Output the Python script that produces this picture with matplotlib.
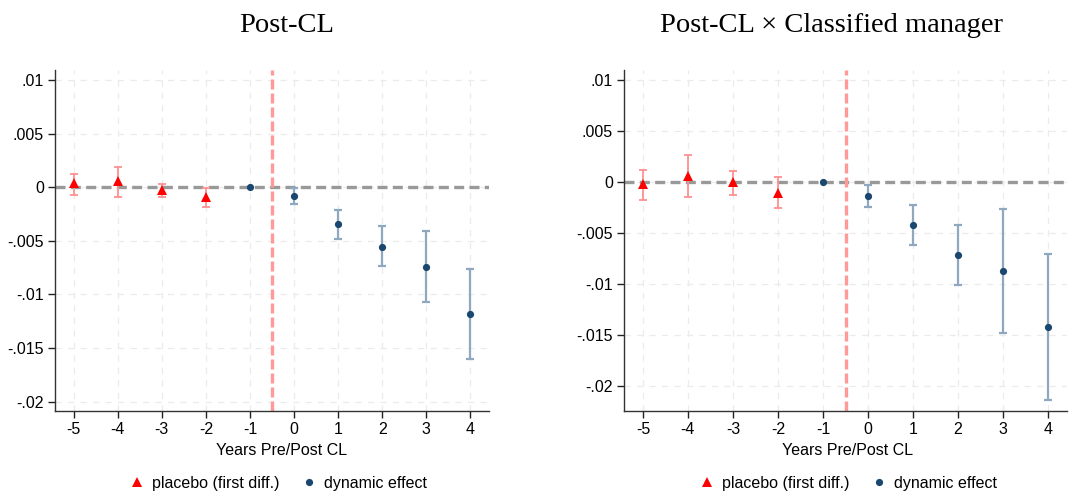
import matplotlib
matplotlib.use("Agg")
import matplotlib.pyplot as plt
import numpy as np

# placebo (first diff.) estimates, years -5..-2
placebo_x = [-5, -4, -3, -2]
# dynamic effect estimates, years -1..4
dyn_x = [-1, 0, 1, 2, 3, 4]

# panel 1: Post-CL
p1_coef = [0.00037, 0.00062, -0.00022, -0.00093]
p1_hi = [0.00124, 0.00190, 0.00031, -0.00012]
p1_lo = [-0.00071, -0.00087, -0.00090, -0.00186]
d1_coef = [0.0, -0.00081, -0.00342, -0.00553, -0.00742, -0.01186]
d1_hi = [np.nan, -0.00010, -0.00211, -0.00363, -0.00404, -0.00767]
d1_lo = [np.nan, -0.00155, -0.00481, -0.00736, -0.01075, -0.01606]

# panel 2: Post-CL x Classified manager
p2_coef = [-0.00023, 0.00059, -0.00003, -0.00104]
p2_hi = [0.00114, 0.00260, 0.00111, 0.00049]
p2_lo = [-0.00173, -0.00150, -0.00124, -0.00257]
d2_coef = [0.0, -0.00140, -0.00427, -0.00720, -0.00876, -0.01423]
d2_hi = [np.nan, -0.00026, -0.00225, -0.00423, -0.00270, -0.00704]
d2_lo = [np.nan, -0.00251, -0.00622, -0.01016, -0.01485, -0.02140]

titles = ["Post-CL", "Post-CL \u00d7 Classified manager"]
xticks = list(range(-5, 5))
yticks1 = [0.01, 0.005, 0, -0.005, -0.01, -0.015, -0.02]
yticks2 = [0.01, 0.005, 0, -0.005, -0.01, -0.015, -0.02]
ylabels = [".01", ".005", "0", "-.005", "-.01", "-.015", "-.02"]

RED = "#FF0000"
RED_CI = "#FF9090"
NAVY = "#1A476F"
NAVY_CI = "#8FA7BF"

plt.rcParams['font.family'] = ['Liberation Sans', 'DejaVu Sans']

fig = plt.figure(figsize=(10.69, 4.98), dpi=100)
W, H = 1069, 498

panels = [
    dict(box=(55, 70, 489, 410.7), ylim=(-0.02084, 0.01093), yt=yticks1,
         p=(p1_coef, p1_lo, p1_hi), d=(d1_coef, d1_lo, d1_hi),
         title_x=287, xlab_x=281.7, leg_x=278),
    dict(box=(624, 70, 1067, 410.7), ylim=(-0.02245, 0.01098), yt=yticks2,
         p=(p2_coef, p2_lo, p2_hi), d=(d2_coef, d2_lo, d2_hi),
         title_x=831, xlab_x=848, leg_x=848),
]

for i, pn in enumerate(panels):
    x0, y0, x1, y1 = pn['box']
    ax = fig.add_axes([x0 / W, 1 - y1 / H, (x1 - x0) / W, (y1 - y0) / H])
    ax.set_xlim(-5.42, 4.42)
    ax.set_ylim(*pn['ylim'])

    ax.set_xticks(xticks)
    ax.set_xticklabels([str(v) for v in xticks])
    ax.set_yticks(pn['yt'])
    ax.set_yticklabels(ylabels)
    ax.tick_params(axis='both', direction='out', length=5, width=1,
                   labelsize=11.5, color='#222222', pad=3)
    for s in ['top', 'right']:
        ax.spines[s].set_visible(False)
    for s in ['left', 'bottom']:
        ax.spines[s].set_color('#333333')
        ax.spines[s].set_linewidth(1)

    ax.grid(True, color='#ebebeb', linewidth=0.9, linestyle=(0, (5, 5)))
    ax.set_axisbelow(True)

    ax.axhline(0, color='#999999', linewidth=2.4, dashes=(3, 1.6), zorder=2)
    ax.axvline(-0.5, color='#FF9A9A', linewidth=2.4, dashes=(3, 1.2), zorder=2)

    pc, plo, phi = [np.array(a) for a in pn['p']]
    dc, dlo, dhi = [np.array(a) for a in pn['d']]
    px = np.array(placebo_x)
    dx = np.array(dyn_x)

    ax.errorbar(px, (plo + phi) / 2, yerr=(phi - plo) / 2, fmt='none',
                ecolor=RED_CI, elinewidth=1.3, capsize=2.6, capthick=1.3, zorder=3)
    m = np.isfinite(dlo)
    ax.errorbar(dx[m], (dlo[m] + dhi[m]) / 2, yerr=(dhi[m] - dlo[m]) / 2, fmt='none',
                ecolor=NAVY_CI, elinewidth=1.6, capsize=2.6, capthick=1.6, zorder=3)

    ax.plot(px, pc, linestyle='none', marker='^', markersize=7, color=RED,
            markeredgewidth=0, zorder=4, label='placebo (first diff.)')
    ax.plot(dx, dc, linestyle='none', marker='o', markersize=5.2, color=NAVY,
            markeredgewidth=0, zorder=4, label='dynamic effect')

    ax.set_xlabel("Years Pre/Post CL", fontsize=11.5)
    ax.xaxis.set_label_coords((pn['xlab_x'] - x0) / (x1 - x0), (y1 - 450) / (y1 - y0))
    ax.xaxis.label.set_verticalalignment('center')

    ax.legend(loc='center', bbox_to_anchor=((pn['leg_x'] - x0) / (x1 - x0), (y1 - 483) / (y1 - y0)),
              ncol=2, frameon=False, fontsize=11.5, handlelength=1.0,
              handletextpad=0.4, columnspacing=1.4)

    fig.text(pn['title_x'] / W, 1 - 31.7 / H, titles[i], ha='center', va='baseline',
             fontsize=20.5, family=['Liberation Serif', 'DejaVu Serif'])

fig.savefig("out.png", dpi=100)
